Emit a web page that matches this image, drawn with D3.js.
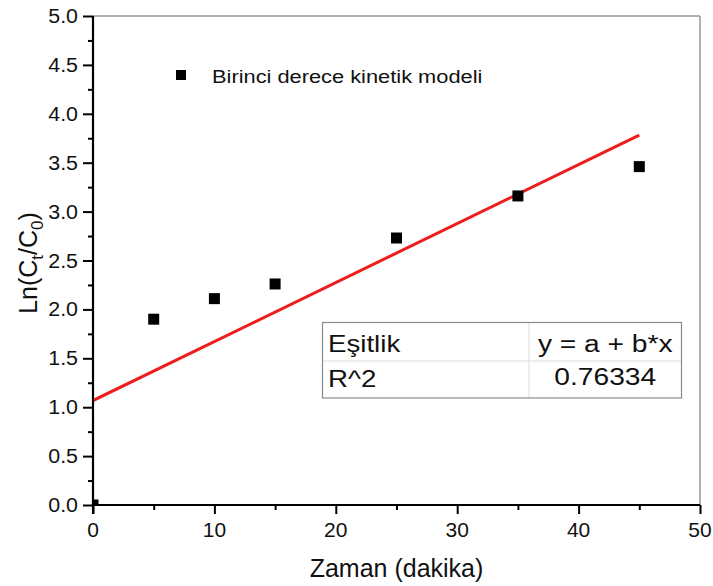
<!DOCTYPE html>
<html>
<head>
<meta charset="utf-8">
<script src="https://cdn.jsdelivr.net/npm/d3@7"></script>
<style>
  html, body { margin: 0; padding: 0; background: #fff; }
  svg { display: block; font-family: "Liberation Sans", Arial, sans-serif; }
</style>
</head>
<body>
<svg id="chart" width="713" height="586"></svg>
<script>
// Kinetic data: time (minutes) vs ln(Ct/C0)
const times = [0, 5, 10, 15, 25, 35, 45];
const lnRatio = [0.0, 1.90, 2.11, 2.26, 2.73, 3.16, 3.46];
const xTicks = [0, 10, 20, 30, 40, 50];
const yTicks = [0.0, 0.5, 1.0, 1.5, 2.0, 2.5, 3.0, 3.5, 4.0, 4.5, 5.0];
const seriesName = "Birinci derece kinetik modeli";
const tableRows = [["Eşitlik", "y = a + b*x"], ["R^2", "0.76334"]];

const svg = d3.select("#chart");
const plotL = 93, plotR = 700, plotT = 16, plotB = 505;

const x = d3.scaleLinear().domain([0, 50]).range([plotL, plotR]);
const y = d3.scaleLinear().domain([0, 5]).range([plotB, plotT]);

// helper: text with a horizontal stretch
function stretchedText(parent, tx, ty, str, size, sx, anchor) {
  return parent.append("text")
    .attr("transform", `translate(${tx},${ty}) scale(${sx},1)`)
    .attr("font-size", size)
    .attr("text-anchor", anchor || "start")
    .attr("fill", "#111")
    .text(str);
}

// least-squares fit for the linear model
const n = times.length;
const mx = d3.mean(times), my = d3.mean(lnRatio);
let sxy = 0, sxx = 0;
for (let i = 0; i < n; i++) {
  sxy += (times[i] - mx) * (lnRatio[i] - my);
  sxx += (times[i] - mx) ** 2;
}
const slope = sxy / sxx;
const intercept = my - slope * mx;
const xFit = d3.extent(times);

svg.append("clipPath").attr("id", "plotClip")
  .append("rect").attr("x", plotL).attr("y", plotT)
  .attr("width", plotR - plotL).attr("height", plotB - plotT);

const plot = svg.append("g").attr("clip-path", "url(#plotClip)");

// fitted line
plot.append("line")
  .attr("x1", x(xFit[0])).attr("y1", y(intercept + slope * xFit[0]))
  .attr("x2", x(xFit[1])).attr("y2", y(intercept + slope * xFit[1]))
  .attr("stroke", "#ee1c1c").attr("stroke-width", 3);

// data markers
const sq = 11;
plot.selectAll("rect.pt").data(times.map((t, i) => [t, lnRatio[i]]))
  .enter().append("rect").attr("class", "pt")
  .attr("x", d => x(d[0]) - sq / 2).attr("y", d => y(d[1]) - sq / 2)
  .attr("width", sq).attr("height", sq).attr("fill", "#000");

// frame: top and right borders
svg.append("line").attr("x1", plotL).attr("x2", plotR).attr("y1", plotT).attr("y2", plotT)
  .attr("stroke", "#999").attr("stroke-width", 1.5);
svg.append("line").attr("x1", plotR).attr("x2", plotR).attr("y1", plotT).attr("y2", plotB)
  .attr("stroke", "#999").attr("stroke-width", 1.5);

// x axis
const xAxisG = svg.append("g").attr("transform", `translate(0,${plotB})`);
xAxisG.call(d3.axisBottom(x).tickValues(d3.range(0, 51, 5)).tickSize(5).tickFormat(""))
  .call(g => g.select(".domain").remove());
xAxisG.selectAll(".tick line").attr("stroke", "#000").attr("stroke-width", 2)
  .attr("y2", d => d % 10 === 0 ? 9 : 5);
xAxisG.append("line").attr("x1", plotL - 1).attr("x2", plotR).attr("stroke", "#000").attr("stroke-width", 2.2);
xTicks.forEach(v => stretchedText(xAxisG, x(v), 32, String(v), 20, 1.05, "middle"));

// y axis
const yAxisG = svg.append("g").attr("transform", `translate(${plotL},0)`);
yAxisG.call(d3.axisLeft(y).tickValues(d3.range(0, 20.5, 1).map(v => v * 0.25)).tickSize(5).tickFormat(""))
  .call(g => g.select(".domain").remove());
yAxisG.selectAll(".tick line").attr("stroke", "#000").attr("stroke-width", 2)
  .attr("x2", d => Math.abs(d * 2 - Math.round(d * 2)) < 1e-6 ? -10 : -5);
yAxisG.append("line").attr("y1", plotT).attr("y2", plotB + 9).attr("stroke", "#000").attr("stroke-width", 2.2);
yTicks.forEach(v => stretchedText(yAxisG, -15, y(v) + 7, v.toFixed(1), 20, 1.07, "end"));

// axis titles
stretchedText(svg, (plotL + plotR) / 2, 577, "Zaman (dakika)", 25, 1.0, "middle");

const yTitle = svg.append("text")
  .attr("transform", `translate(37,263) rotate(-90)`)
  .attr("font-size", 25).attr("text-anchor", "middle").attr("fill", "#111");
yTitle.append("tspan").text("Ln(C");
yTitle.append("tspan").attr("font-size", 17).attr("dy", 6).text("t");
yTitle.append("tspan").attr("dy", -6).text("/C");
yTitle.append("tspan").attr("font-size", 17).attr("dy", 6).text("0");
yTitle.append("tspan").attr("dy", -6).text(")");

// legend
svg.append("rect").attr("x", 176).attr("y", 70).attr("width", 10).attr("height", 10).attr("fill", "#000");
stretchedText(svg, 212, 83, seriesName, 18.5, 1.18, "start");

// statistics table
const tb = { x0: 322.5, x1: 681.5, y0: 322.5, yMid: 361, y1: 398, xMid: 529 };
const table = svg.append("g");
table.append("line").attr("x1", tb.x0).attr("x2", tb.x1).attr("y1", tb.yMid).attr("y2", tb.yMid)
  .attr("stroke", "#ddd").attr("stroke-width", 1);
table.append("line").attr("x1", tb.xMid).attr("x2", tb.xMid).attr("y1", tb.y0).attr("y2", tb.y1)
  .attr("stroke", "#ddd").attr("stroke-width", 1);
table.append("rect").attr("x", tb.x0).attr("y", tb.y0)
  .attr("width", tb.x1 - tb.x0).attr("height", tb.y1 - tb.y0)
  .attr("fill", "none").attr("stroke", "#8a8a8a").attr("stroke-width", 1.2);
const rowBase = [352, 387];
tableRows.forEach((r, i) => {
  stretchedText(table, 328, rowBase[i], r[0], 24.5, 1.13, "start");
  stretchedText(table, (tb.xMid + tb.x1) / 2, rowBase[i] - (i === 1 ? 2 : 0), r[1], 24.5, 1.15, "middle");
});
</script>
</body>
</html>
